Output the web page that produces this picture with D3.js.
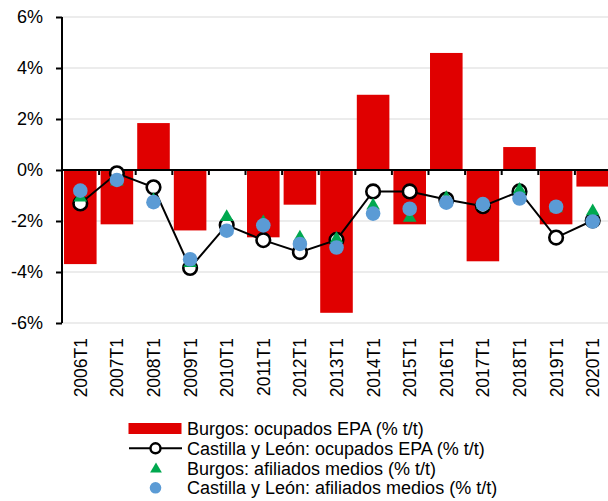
<!DOCTYPE html>
<html>
<head>
<meta charset="utf-8">
<script src="https://cdn.jsdelivr.net/npm/d3@7"></script>
<style>
  body { margin: 0; background: #fff; }
  svg { display: block; font-family: "Liberation Sans", Arial, sans-serif; }
</style>
</head>
<body>
<svg id="chart"></svg>
<script>
const periods = ['2006T1','2007T1','2008T1','2009T1','2010T1','2011T1','2012T1','2013T1',
  '2014T1','2015T1','2016T1','2017T1','2018T1','2019T1','2020T1'];

// Burgos: ocupados EPA (% t/t)
const burgosEpa = [-3.69, -2.13, 1.84, -2.37, -0.04, -2.64, -1.36, -5.6,
  2.95, -2.13, 4.59, -3.58, 0.9, -2.13, -0.65];
// Castilla y León: ocupados EPA (% t/t)
const cylEpa = [-1.31, -0.13, -0.68, -3.84, -2.16, -2.75, -3.22, -2.74,
  -0.84, -0.84, -1.16, -1.42, -0.84, -2.65, -1.98];
// Burgos: afiliados medios (% t/t)
const burgosAfil = [-1.08, -0.45, -1.18, -3.65, -1.85, -2.05, -2.65, -2.7,
  -1.4, -1.88, -1.1, -1.38, -0.78, -1.5, -1.62];
// Castilla y León: afiliados medios (% t/t)
const cylAfil = [-0.81, -0.39, -1.26, -3.5, -2.38, -2.17, -2.9, -3.04,
  -1.71, -1.52, -1.28, -1.34, -1.12, -1.44, -2.02];

const yTicks = [-6, -4, -2, 0, 2, 4, 6];

const legendItems = [
  'Burgos: ocupados EPA (% t/t)',
  'Castilla y León: ocupados EPA (% t/t)',
  'Burgos: afiliados medios (% t/t)',
  'Castilla y León: afiliados medios (% t/t)'
];

const W = 608, H = 501;
const red = '#e00000', green = '#00a84f', blue = '#5b9bd5';
const fontSize = '18px';

const svg = d3.select('#chart').attr('width', W).attr('height', H);

const x = d3.scaleBand().domain(periods).range([62, 611]).paddingInner(0.11).paddingOuter(0.055);
const y = d3.scaleLinear().domain([-6, 6]).range([323, 17]);

// gridlines
svg.append('g')
  .selectAll('line')
  .data(yTicks.filter(d => d !== 0))
  .enter().append('line')
  .attr('x1', 62).attr('x2', W)
  .attr('y1', d => y(d)).attr('y2', d => y(d))
  .attr('stroke', '#e6e6e6').attr('stroke-width', 1.5);

// bars
svg.append('g')
  .selectAll('rect')
  .data(periods)
  .enter().append('rect')
  .attr('x', d => x(d))
  .attr('width', x.bandwidth())
  .attr('y', (d, i) => y(Math.max(0, burgosEpa[i])))
  .attr('height', (d, i) => Math.abs(y(burgosEpa[i]) - y(0)))
  .attr('fill', red);

// zero axis with ticks between categories
const bandStep = x.step();
const xAxis = d3.axisBottom(d3.scaleLinear().domain([0, periods.length]).range([62, 62 + bandStep * periods.length]))
  .tickValues(d3.range(1, periods.length + 1))
  .tickSize(5)
  .tickFormat('');
const gx = svg.append('g').attr('transform', `translate(0,${y(0)})`).call(xAxis);
gx.select('.domain').remove();
gx.selectAll('line').attr('stroke', '#000').attr('stroke-width', 2);
svg.append('line')
  .attr('x1', 62).attr('x2', W)
  .attr('y1', y(0)).attr('y2', y(0))
  .attr('stroke', '#000').attr('stroke-width', 2);

// y axis
const gy = svg.append('g').attr('transform', 'translate(62,0)')
  .call(d3.axisLeft(y).tickValues(yTicks).tickSize(6).tickPadding(13).tickFormat(d => d + '%'));
gy.select('.domain').attr('stroke', '#000').attr('stroke-width', 2).attr('d', `M0,${y(6)}V${y(-6)}`);
gy.selectAll('line').attr('stroke', '#000').attr('stroke-width', 2);
gy.selectAll('text').attr('fill', '#000').style('font-size', fontSize).style('font-family', '"Liberation Sans", Arial, sans-serif');

// category labels
svg.append('g')
  .selectAll('text')
  .data(periods)
  .enter().append('text')
  .attr('transform', d => `translate(${x(d) + x.bandwidth() / 2 + 6.5},338) rotate(-90)`)
  .attr('text-anchor', 'end')
  .style('font-size', '17.5px')
  .text(d => d);

const cx = d => x(d) + x.bandwidth() / 2;

// CyL EPA line + open circles
const line = d3.line().x((d, i) => cx(periods[i])).y(d => y(d));
svg.append('path')
  .attr('d', line(cylEpa))
  .attr('fill', 'none').attr('stroke', '#000').attr('stroke-width', 2);
svg.append('g')
  .selectAll('circle')
  .data(cylEpa)
  .enter().append('circle')
  .attr('cx', (d, i) => cx(periods[i]))
  .attr('cy', d => y(d))
  .attr('r', 6.8)
  .attr('fill', '#fff').attr('stroke', '#000').attr('stroke-width', 2.6);

// Burgos afiliados triangles
const tri = d3.symbol().type(d3.symbolTriangle).size(80);
svg.append('g')
  .selectAll('path')
  .data(burgosAfil)
  .enter().append('path')
  .attr('d', tri)
  .attr('transform', (d, i) => `translate(${cx(periods[i])},${y(d)})`)
  .attr('fill', green);

// CyL afiliados dots
svg.append('g')
  .selectAll('circle')
  .data(cylAfil)
  .enter().append('circle')
  .attr('cx', (d, i) => cx(periods[i]))
  .attr('cy', d => y(d))
  .attr('r', 7.3)
  .attr('fill', blue);

// legend
const lg = svg.append('g');
const rowY = [428.5, 448.3, 468.2, 487.8];
lg.append('rect').attr('x', 128.5).attr('y', rowY[0] - 5.5).attr('width', 53).attr('height', 11).attr('fill', red);
lg.append('line').attr('x1', 129).attr('x2', 182).attr('y1', rowY[1]).attr('y2', rowY[1])
  .attr('stroke', '#000').attr('stroke-width', 2);
lg.append('circle').attr('cx', 155.5).attr('cy', rowY[1]).attr('r', 5).attr('fill', '#fff')
  .attr('stroke', '#000').attr('stroke-width', 2.4);
lg.append('path').attr('d', d3.symbol().type(d3.symbolTriangle).size(60))
  .attr('transform', `translate(156,${rowY[2] + 1})`).attr('fill', green);
lg.append('circle').attr('cx', 155.5).attr('cy', rowY[3]).attr('r', 5.8).attr('fill', blue);
lg.selectAll('text.leg')
  .data(legendItems)
  .enter().append('text')
  .attr('class', 'leg')
  .attr('x', 187)
  .attr('y', (d, i) => rowY[i])
  .attr('dy', '0.35em')
  .style('font-size', fontSize)
  .text(d => d);
</script>
</body>
</html>
